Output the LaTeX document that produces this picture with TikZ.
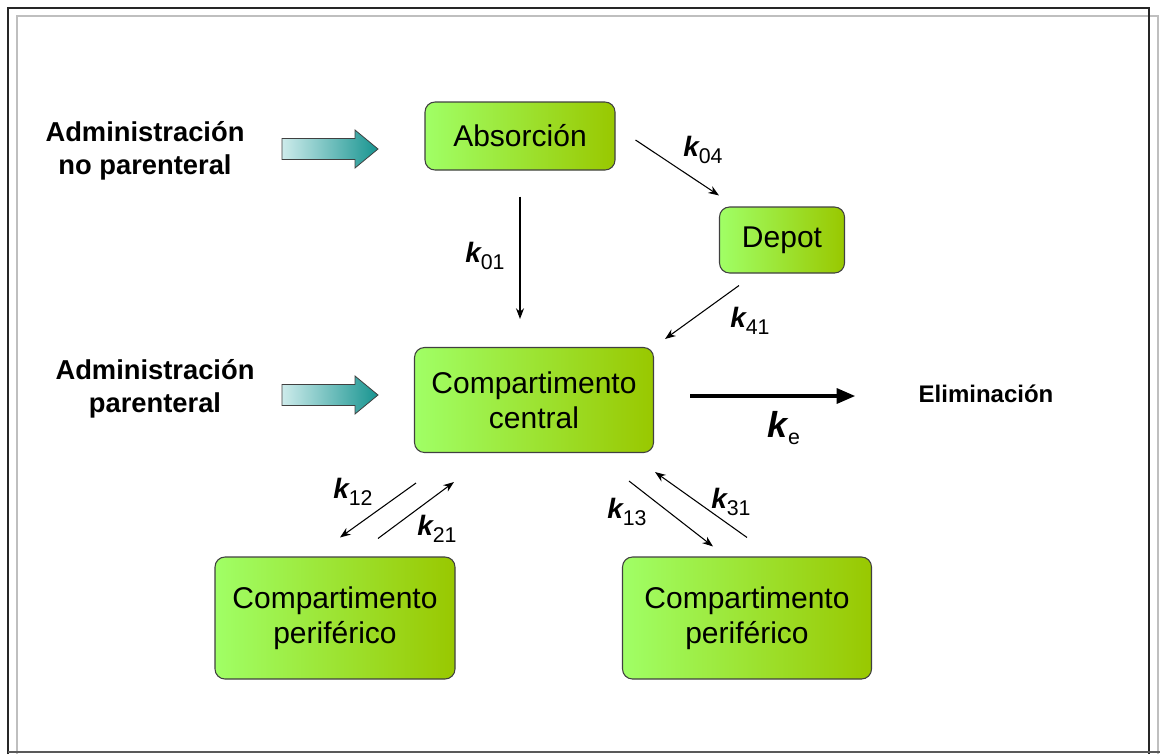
\documentclass[tikz,border=0pt]{standalone}
\usepackage{fontspec}
\setmainfont{Liberation Sans}
\usetikzlibrary{arrows.meta,calc}
\definecolor{gL}{HTML}{A0FF66}
\definecolor{gR}{HTML}{99C800}
\definecolor{tL}{HTML}{CDEBEB}
\definecolor{tR}{HTML}{179490}
\newcommand\kk[1]{\textbf{\textit{k}}\kern-1pt\raisebox{-5pt}{\fontsize{16}{16}\selectfont #1}}
\tikzset{
  box/.style={draw=black!75, line width=0.8pt, rounded corners=7.5pt,
    left color=gL, right color=gR, align=center, inner sep=0pt,
    font=\fontsize{22.5}{26}\selectfont},
  adm/.style={align=center, font=\fontsize{20.5}{25}\selectfont\bfseries, inner sep=0pt},
  klab/.style={font=\fontsize{21}{21}\selectfont, inner sep=0pt},
  flow/.style={line width=0.8pt, -{Stealth[length=8pt,width=6pt]}},
  blockarr/.pic={\draw[draw=black!75, line width=0.6pt, left color=tL, right color=tR]
     (0,-10.5) -- (73,-10.5) -- (73,-19) -- (96,0) -- (73,19) -- (73,10.5) -- (0,10.5) -- cycle;}
}
\begin{document}
\begin{tikzpicture}[x=0.75pt,y=-0.75pt]
\useasboundingbox (0,0) rectangle (1160,754);
% frame
\draw[black!25, line width=1.5pt] (17,754) -- (17,16) -- (1158,16) -- (1158,754);
\draw[black!85, line width=1.6pt] (8,754) -- (8,8) -- (1149,8) -- (1149,754);
\draw[black!65, line width=1.5pt] (8,752) -- (1160,752);
% nodes
\node[box, minimum width=142.5pt, minimum height=51pt] (abs) at (520,136) {Absorción};
\node[box, minimum width=93.75pt, minimum height=49.5pt] (dep) at (782,240) {Depot};
\node[box, minimum width=179.25pt, minimum height=78.75pt] (cen) at (534,400) {Compartimento\\central};
\node[box, minimum width=180pt, minimum height=91.5pt] (pl) at (335,618) {Compartimento\\periférico};
\node[box, minimum width=186.75pt, minimum height=91.5pt] (pr) at (747,618) {Compartimento\\periférico};
\node[adm] (a1) at (145,151) {Administración\\no parenteral};
\node[adm] (a2) at (155,389) {Administración\\parenteral};
\node[font=\fontsize{18}{18}\selectfont\bfseries, inner sep=0pt] (el) at (986,394) {Eliminación};
% block arrows
\pic at (282,149) {blockarr};
\pic at (282,395) {blockarr};
% connectors
\draw[flow] ($(abs.south)+(0,26)$) -- ($(abs.south |- cen.north)+(0,-28)$);
\draw[flow] ($(abs.east)+(20,4)$) -- ($(dep.north west)+(0,-11)$);
\draw[flow] ($(dep.south west)+(20,12)$) -- ($(cen.north east)+(11,-8)$);
\draw[line width=3pt, -{Triangle[length=14pt,width=11pt]}] ($(cen.east)+(36,-4)$) -- ($(cen.east -| el.west)+(-63,-4)$);
\draw[flow] ($(cen.south west)+(2,30)$) -- ($(pl.north)+(5,-19)$);
\draw[flow] ($(pl.north)+(43,-18)$) -- ($(cen.south west)+(40,29)$);
\draw[flow] ($(cen.south east)+(-25,28)$) -- ($(pr.north)+(-34,-10)$);
\draw[flow] ($(pr.north)+(0,-19)$) -- ($(cen.south east)+(1,19)$);
% labels
\node[klab] (k01) at (485,256) {\kk{01}};
\node[klab] (k04) at (703,150) {\kk{04}};
\node[klab] (k41) at (750,321) {\kk{41}};
\node[klab, font=\fontsize{27}{27}\selectfont] (ke) at (784,428) {\kk{e}};
\node[klab] (k12) at (353,492) {\kk{12}};
\node[klab] (k21) at (437,529) {\kk{21}};
\node[klab] (k13) at (627,512) {\kk{13}};
\node[klab] (k31) at (731,502) {\kk{31}};
\end{tikzpicture}
\end{document}
